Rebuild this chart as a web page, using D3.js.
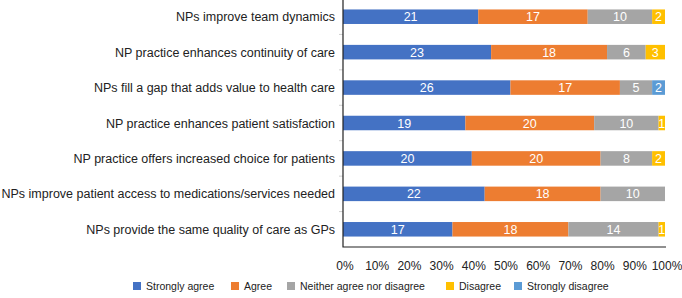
<!DOCTYPE html>
<html>
<head>
<meta charset="utf-8">
<script src="https://cdn.jsdelivr.net/npm/d3@7"></script>
<style>
    body { margin: 0; background: white; }
    svg text { font-family: "Liberation Sans", Arial, sans-serif; }
</style>
</head>
<body>
<svg id="chart" width="682" height="298"></svg>
<script>
var categories = [
    "NPs improve team dynamics",
    "NP practice enhances continuity of care",
    "NPs fill a gap that adds value to health care",
    "NP practice enhances patient satisfaction",
    "NP practice offers increased choice for patients",
    "NPs improve patient access to medications/services needed",
    "NPs provide the same quality of care as GPs"
];
var seriesNames = ["Strongly agree", "Agree", "Neither agree nor disagree", "Disagree", "Strongly disagree"];
var seriesColors = ["#4472c4", "#ed7d31", "#a5a5a5", "#ffc000", "#5b9bd5"];

var stronglyAgree    = [21, 23, 26, 19, 20, 22, 17];
var agree            = [17, 18, 17, 20, 20, 18, 18];
var neither          = [10, 6, 5, 10, 8, 10, 14];
var disagree         = [2, 3, 0, 1, 2, 0, 1];
var stronglyDisagree = [0, 0, 2, 0, 0, 0, 0];

var xTicks = [0, 10, 20, 30, 40, 50, 60, 70, 80, 90, 100];

var svg = d3.select("#chart");
const margins = {top: 0, left: 343, right: 17, bottom: 51};
var width = +svg.attr("width"), height = +svg.attr("height");

var columns = [stronglyAgree, agree, neither, disagree, stronglyDisagree];
var rows = categories.map(function(cat, i) {
    var row = {category: cat};
    var total = d3.sum(columns, c => c[i]);
    seriesNames.forEach(function(s, j) {
        row[s] = columns[j][i] / total * 100;
        row[s + "_n"] = columns[j][i];
    });
    return row;
});

var stacked = d3.stack().keys(seriesNames)(rows);

var x = d3.scaleLinear().domain([0, 100]).range([margins.left, width - margins.right]);
var y = d3.scaleBand().domain(categories).range([margins.top - 1, height - margins.bottom]).paddingInner(0.59).paddingOuter(0.295);
var bottomY = height - margins.bottom;

// bars
var groups = svg.append("g").selectAll("g.series")
    .data(stacked).enter()
    .append("g").attr("class", "series")
    .attr("fill", (d, i) => seriesColors[i]);

groups.selectAll("rect")
    .data(d => d).enter()
    .append("rect")
    .attr("x", d => x(d[0]))
    .attr("y", d => y(d.data.category))
    .attr("width", d => x(d[1]) - x(d[0]))
    .attr("height", y.bandwidth());

groups.selectAll("text")
    .data(d => d.map(v => ({v: v, key: d.key}))).enter()
    .filter(d => d.v.data[d.key + "_n"] > 0)
    .append("text")
    .attr("x", d => (x(d.v[0]) + x(d.v[1])) / 2)
    .attr("y", d => y(d.v.data.category) + y.bandwidth() / 2)
    .attr("dy", "0.36em")
    .attr("text-anchor", "middle")
    .attr("fill", "white")
    .attr("font-size", 12.5)
    .text(d => d.v.data[d.key + "_n"]);

// left ticks between categories
var step = y.step();
svg.append("g").selectAll("line")
    .data(d3.range(1, categories.length)).enter()
    .append("line")
    .attr("x1", margins.left - 4).attr("x2", margins.left)
    .attr("y1", i => y(categories[i]) - (step - y.bandwidth()) / 2)
    .attr("y2", i => y(categories[i]) - (step - y.bandwidth()) / 2)
    .attr("stroke", "#d0d0d0");

// axis frame
svg.append("path")
    .attr("d", d3.line()([[margins.left, margins.top], [margins.left, bottomY], [x(100) + 1, bottomY]]))
    .attr("fill", "none")
    .attr("stroke", "#222")
    .attr("stroke-width", 1.2);

// category labels
svg.append("g").selectAll("text")
    .data(categories).enter()
    .append("text")
    .attr("x", margins.left - 8)
    .attr("y", d => y(d) + y.bandwidth() / 2)
    .attr("dy", "0.36em")
    .attr("text-anchor", "end")
    .attr("font-size", 12.5)
    .attr("fill", "#222")
    .text(d => d);

// x tick labels
svg.append("g").selectAll("text")
    .data(xTicks).enter()
    .append("text")
    .attr("x", d => x(d) + 2)
    .attr("y", bottomY + 23)
    .attr("text-anchor", "middle")
    .attr("font-size", 12)
    .attr("fill", "#222")
    .text(d => d + "%");

// legend
var legendX = [133, 231, 287, 446, 514];
var legend = svg.append("g").selectAll("g")
    .data(seriesNames).enter()
    .append("g")
    .attr("transform", (d, i) => "translate(" + legendX[i] + "," + 282 + ")");
legend.append("rect")
    .attr("width", 8).attr("height", 8)
    .attr("fill", (d, i) => seriesColors[i]);
legend.append("text")
    .attr("x", 13).attr("y", 4)
    .attr("dy", "0.36em")
    .attr("font-size", 10.5)
    .attr("fill", "#222")
    .text(d => d);
</script>
</body>
</html>
